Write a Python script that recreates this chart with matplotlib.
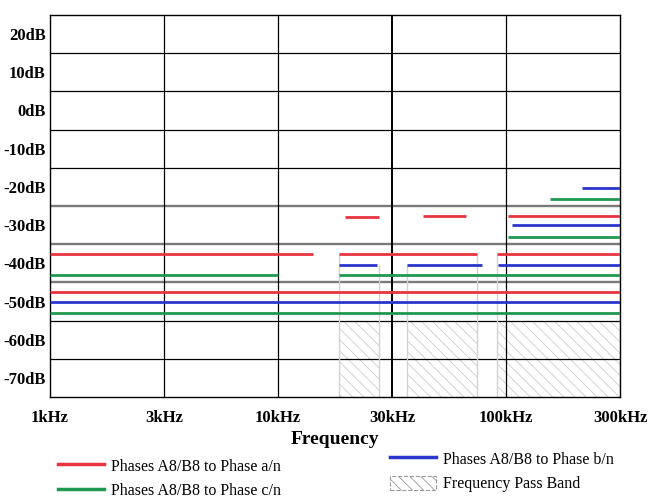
import numpy as np
import matplotlib
matplotlib.use("Agg")
import matplotlib.pyplot as plt
from matplotlib.lines import Line2D
from matplotlib.patches import Patch

plt.rcParams['font.family'] = ['Liberation Serif', 'DejaVu Serif']
plt.rcParams['hatch.linewidth'] = 0.6

# ---- data ----
freq_ticks = [1, 3, 10, 30, 100, 300]          # kHz
freq_labels = ['1kHz', '3kHz', '10kHz', '30kHz', '100kHz', '300kHz']
db_ticks = [20, 10, 0, -10, -20, -30, -40, -50, -60, -70]
db_labels = [f'{v}dB' for v in db_ticks]

# segments: (start kHz, end kHz, level dB)
red_segments = [(1, 14, -37.5), (18, 74, -37.5), (91, 300, -37.5),
                (1, 300, -47.5),
                (19, 26.5, -28), (41.5, 65.5, -27.5), (102, 300, -27.5)]
blue_segments = [(1, 300, -50), (18, 26, -40.5), (35, 78, -40.5), (92, 300, -40.5),
                 (106, 300, -30), (209, 300, -20.3)]
green_segments = [(1, 300, -53), (1, 10, -43), (18, 300, -43),
                  (102, 300, -33), (153, 300, -23.2)]

pass_band_start = [18, 35, 91]
pass_band_end = [26.5, 74, 300]
pass_band_low = -75
pass_band_high = -55
band_edge_top = [-37.5, -40.5, -40.5, -37.5, -37.5, -37.5]

labels = ['Phases A8/B8 to Phase a/n', 'Phases A8/B8 to Phase b/n',
          'Phases A8/B8 to Phase c/n', 'Frequency Pass Band']

RED, BLUE, GREEN = '#e8343f', '#2a36cc', '#1f9950'

# ---- scale: equal spacing between the labelled frequencies ----
_logs = np.log10(freq_ticks)
_pos = np.arange(len(freq_ticks), dtype=float)

def fwd(f):
    f = np.maximum(np.asarray(f, dtype=float), 1e-9)
    return np.interp(np.log10(f), _logs, _pos)

def inv(p):
    return 10 ** np.interp(np.asarray(p, dtype=float), _pos, _logs)

fig = plt.figure(figsize=(6.48, 5.0), dpi=100)
ax = fig.add_axes([50/648, 1-397/500, 570/648, 382/500])
ax.set_xscale('function', functions=(fwd, inv))
ax.set_xlim(1, 300)
ax.set_ylim(-75, 25)

# grid lines
for y in [15, 5, -5, -15, -55, -65]:
    ax.axhline(y, color='black', lw=0.9, zorder=1)
for y in [-25, -35, -45]:
    ax.axhline(y, color='#7a7a7a', lw=1.7, zorder=1)
for f in [3, 10, 100]:
    ax.axvline(f, color='black', lw=0.9, zorder=1)
ax.axvline(30, color='black', lw=1.4, zorder=1)
for s in ax.spines.values():
    s.set_color('black')
    s.set_linewidth(1.0)

# pass bands
for a, b in zip(pass_band_start, pass_band_end):
    ax.fill_between([a, b], pass_band_low, pass_band_high, facecolor='none',
                    edgecolor='#cccccc', hatch='\\\\\\', linewidth=0, zorder=0)
edges = [e for ab in zip(pass_band_start, pass_band_end) for e in ab]
for e, top in zip(edges, band_edge_top):
    ax.vlines(e, pass_band_low, top, color='#d2d2d2', lw=1.0, zorder=1)

# series
for segs, c in [(red_segments, RED), (blue_segments, BLUE), (green_segments, GREEN)]:
    for a, b, v in segs:
        ax.plot([a, b], [v, v], color=c, lw=2.0, solid_capstyle='butt', zorder=3)

ax.set_xticks(freq_ticks)
ax.set_xticklabels(freq_labels, fontsize=12, fontweight='bold')
ax.set_yticks(db_ticks)
ax.set_yticklabels(db_labels, fontsize=12, fontweight='bold')
ax.tick_params(axis='both', length=0)
ax.tick_params(axis='x', pad=9)
ax.tick_params(axis='y', pad=3)
ax.xaxis.set_minor_locator(matplotlib.ticker.NullLocator())
ax.set_xlabel('Frequency', fontsize=14, fontweight='bold', labelpad=4)

h_red = Line2D([], [], color=RED, lw=2.5)
h_blue = Line2D([], [], color=BLUE, lw=2.5)
h_green = Line2D([], [], color=GREEN, lw=2.5)
h_band = Patch(facecolor='white', edgecolor='#999999', hatch='\\\\\\', lw=0.8, ls='--')

leg1 = fig.legend([h_red, h_green], [labels[0], labels[2]], loc='upper left',
                  bbox_to_anchor=(50/648, 1-450/500), frameon=False, fontsize=11.5,
                  handlelength=2.9, handleheight=1.0, handletextpad=0.4,
                  labelspacing=0.5, borderpad=0)
leg2 = fig.legend([h_blue, h_band], [labels[1], labels[3]], loc='upper left',
                  bbox_to_anchor=(382/648, 1-443/500), frameon=False, fontsize=11.5,
                  handlelength=2.9, handleheight=1.0, handletextpad=0.4,
                  labelspacing=0.5, borderpad=0)

fig.savefig('out.png', dpi=100)
